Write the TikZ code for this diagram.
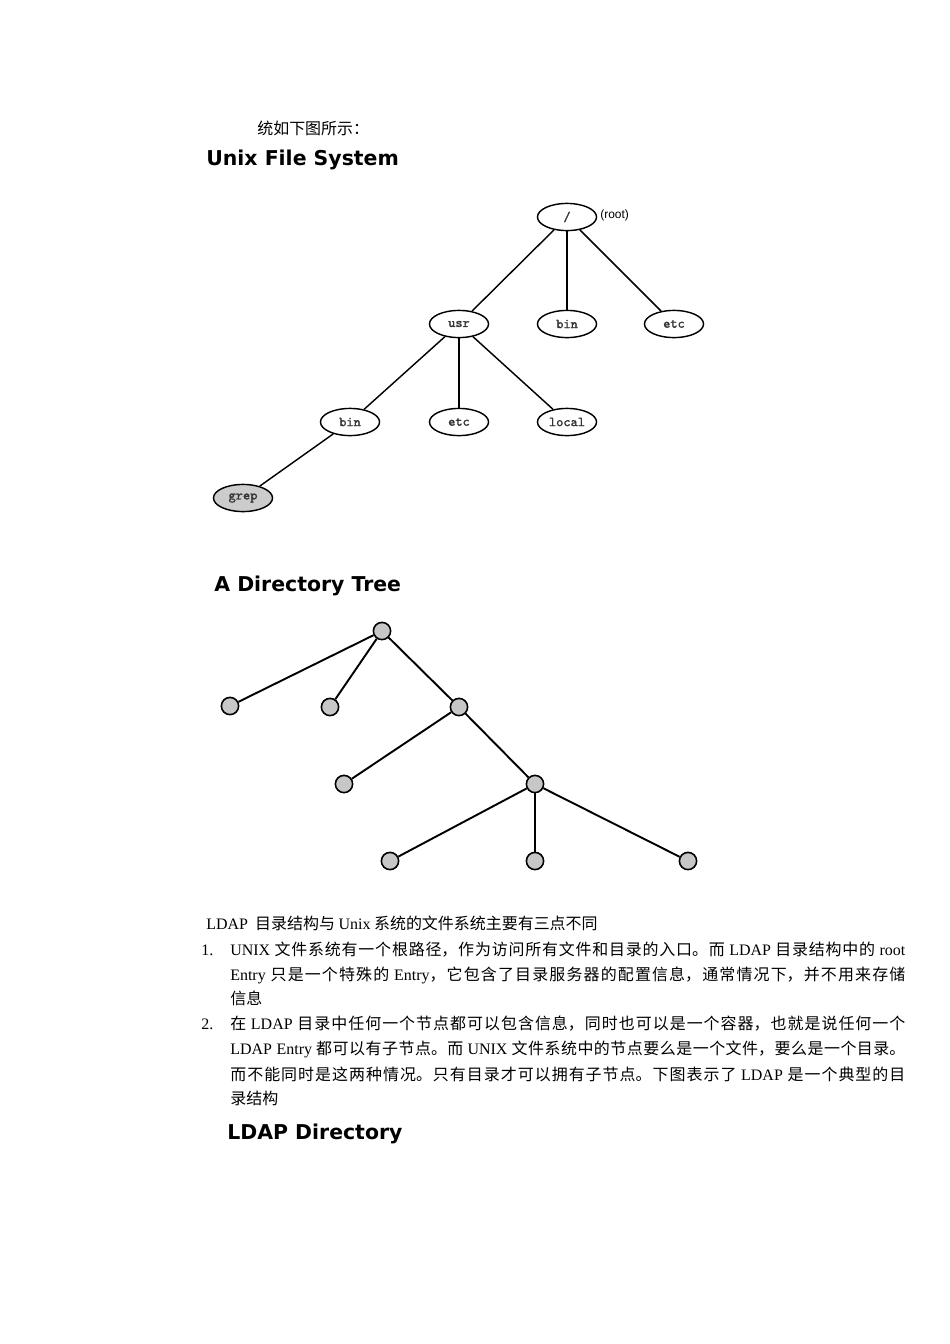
\documentclass[tikz,border=0pt]{standalone}
\usepackage{fontspec}
\usetikzlibrary{shapes.geometric}

\setmainfont{Noto Sans CJK SC}
\newfontfamily\latin{Liberation Serif}
\newfontfamily\headfont{DejaVu Sans}
\newfontfamily\rootfont{Liberation Sans}
\newfontfamily\codefont{Latin Modern Mono}[FakeBold=1.0]
\XeTeXlinebreaklocale "zh"
\XeTeXlinebreakskip=0pt plus 1pt minus 0.3pt
\newcommand\en[1]{{\latin #1}}

\begin{document}
\begin{tikzpicture}[x=0.6263pt, y=-0.6263pt, font=\fontsize{10}{15}\selectfont,
	heading/.style={anchor=west, inner sep=0, font=\headfont\bfseries\fontsize{12.8}{14}\selectfont},
	dir/.style={ellipse, draw, line width=0.9pt, minimum width=37pt, minimum height=17pt, inner sep=0, font=\codefont\bfseries\fontsize{8.6}{9}\selectfont, text=black!80},
	link/.style={line width=0.9pt},
	dot/.style={circle, draw, line width=1pt, fill=black!22, minimum size=10.8pt, inner sep=0},
	branch/.style={line width=1.2pt},
	txt/.style={anchor=west, inner sep=0},
	jline/.style={txt, text width=422.8pt, align=justify}]

	\useasboundingbox (0,0) rectangle (950,1344);

	\node[txt] (intro) at (257,128) {统如下图所示：};
	\node[heading] (unixhead) at (206,160) {Unix File System};

	% unix tree
	\node[dir] (root) at (567,217) {/};
	\node[txt, font=\rootfont\fontsize{7.5}{8}\selectfont] (rootlbl) at (600,215) {(root)};
	\node[dir] (usr) at (459,324) {usr};
	\node[dir] (rbin) at (567,324) {bin};
	\node[dir] (retc) at (674,324) {etc};
	\node[dir] (ubin) at (350,422) {bin};
	\node[dir] (uetc) at (459,422) {etc};
	\node[dir] (local) at (567,422) {local};
	\node[dir, fill=black!20] (grep) at (243,498) {grep};
	\draw[link] (root) -- (usr);
	\draw[link] (root) -- (rbin);
	\draw[link] (root) -- (retc);
	\draw[link] (usr) -- (ubin);
	\draw[link] (usr) -- (uetc);
	\draw[link] (usr) -- (local);
	\draw[link] (ubin) -- (grep);

	\node[heading] (treehead) at (214,586) {A Directory Tree};

	% directory tree
	\node[dot] (t0) at (382,631) {};
	\node[dot] (t1) at (230,706) {};
	\node[dot] (t2) at (330,707) {};
	\node[dot] (t3) at (459,707) {};
	\node[dot] (t4) at (344,784) {};
	\node[dot] (t5) at (535,784) {};
	\node[dot] (t6) at (390,861) {};
	\node[dot] (t7) at (535,861) {};
	\node[dot] (t8) at (688,861) {};
	\foreach \a/\b in {t0/t1, t0/t2, t0/t3, t3/t4, t3/t5, t5/t6, t5/t7, t5/t8}
		\draw[branch] (\a) -- (\b);

	% text
	\node[txt] (diff) at (206,923) {\en{LDAP}\ \ 目录结构与 \en{Unix} 系统的文件系统主要有三点不同};
	\node[txt] (num1) at (201,950) {\en{1.}};
	\node[jline] (a1) at (230,950) {\parfillskip=0pt \en{UNIX} 文件系统有一个根路径，作为访问所有文件和目录的入口。而 \en{LDAP}\ 目录结构中的 \en{root}\par};
	\node[jline] (a2) at (230,975) {\parfillskip=0pt \en{Entry} 只是一个特殊的 \en{Entry}，它包含了目录服务器的配置信息，通常情况下，并不用来存储\par};
	\node[txt] (a3) at (230,998) {信息};
	\node[txt] (num2) at (201,1024) {\en{2.}};
	\node[jline] (b1) at (230,1024) {\parfillskip=0pt 在 \en{LDAP}\ 目录中任何一个节点都可以包含信息，同时也可以是一个容器，也就是说任何一个\par};
	\node[jline] (b2) at (230,1049) {\parfillskip=0pt \en{LDAP Entry} 都可以有子节点。而 \en{UNIX} 文件系统中的节点要么是一个文件，要么是一个目录。\par};
	\node[jline] (b3) at (230,1074) {\parfillskip=0pt 而不能同时是这两种情况。只有目录才可以拥有子节点。下图表示了 \en{LDAP}\ 是一个典型的目\par};
	\node[txt] (b4) at (230,1098) {录结构};

	\node[heading] (ldaphead) at (227,1134) {LDAP Directory};

\end{tikzpicture}
\end{document}
